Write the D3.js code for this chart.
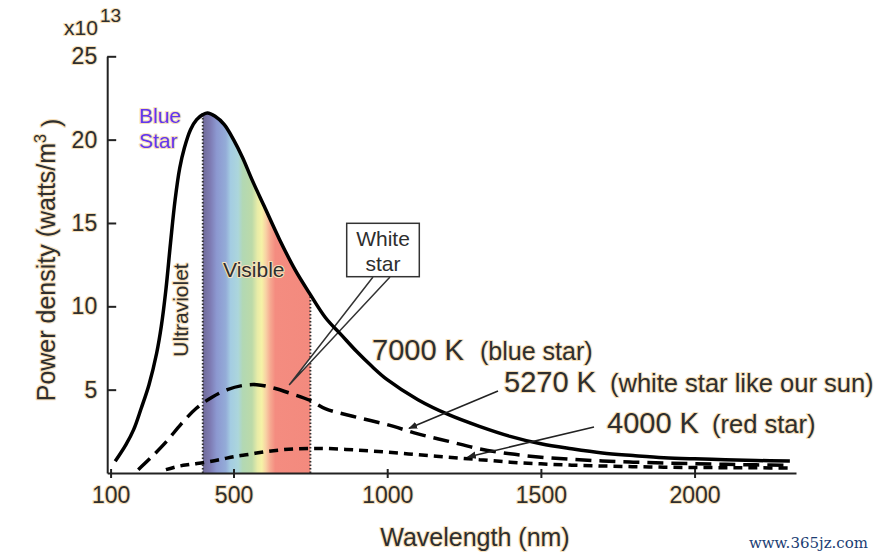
<!DOCTYPE html>
<html>
<head>
<meta charset="utf-8">
<script src="https://cdn.jsdelivr.net/npm/d3@7"></script>
<style>
  body { margin: 0; background: #fff; }
  text { font-family: "Liberation Sans", Arial, sans-serif; fill: #2e2e2e; }
  .halo { paint-order: stroke; stroke: #f6e0ba; stroke-width: 2.2px; stroke-linejoin: round; }
</style>
</head>
<body>
<div id="chart"></div>
<script>
// Values (units of 10^13 W/m^3)
var blueNm  = [115, 150, 175, 200, 225, 250, 265, 280, 295, 310, 325, 340, 360, 380, 400, 415, 440, 470, 500, 530, 560, 600, 650, 700, 750, 800, 850, 900, 950, 1000, 1100, 1200, 1300, 1400, 1500, 1600, 1700, 1800, 1900, 2000, 2100, 2200, 2310];
var blueVal = [0.7, 1.7, 2.6, 3.9, 5.3, 7.2, 8.8, 11.0, 13.8, 16.4, 18.3, 19.5, 20.6, 21.2, 21.5, 21.6, 21.4, 20.9, 20.0, 18.9, 17.6, 16.0, 14.0, 12.2, 10.7, 9.3, 8.3, 7.3, 6.4, 5.6, 4.4, 3.5, 2.8, 2.2, 1.75, 1.45, 1.2, 1.05, 0.92, 0.85, 0.8, 0.75, 0.72];

var whiteNm  = [190, 230, 280, 330, 380, 430, 480, 530, 575, 630, 690, 750, 800, 900, 1000, 1100, 1200, 1300, 1400, 1500, 1600, 1700, 1800, 1900, 2000, 2100, 2200, 2310];
var whiteVal = [0.2, 0.9, 1.85, 2.95, 3.9, 4.55, 5.0, 5.25, 5.3, 5.1, 4.75, 4.35, 3.85, 3.35, 2.9, 2.35, 1.9, 1.45, 1.15, 0.95, 0.82, 0.72, 0.65, 0.6, 0.56, 0.52, 0.49, 0.46];

var redNm  = [280, 320, 360, 410, 460, 500, 550, 600, 650, 700, 750, 800, 900, 1000, 1100, 1200, 1300, 1400, 1500, 1600, 1700, 1800, 1900, 2000, 2100, 2200, 2310];
var redVal = [0.2, 0.4, 0.52, 0.65, 0.82, 0.98, 1.12, 1.27, 1.38, 1.45, 1.47, 1.47, 1.38, 1.25, 1.1, 0.95, 0.8, 0.65, 0.55, 0.47, 0.42, 0.38, 0.35, 0.33, 0.32, 0.31, 0.3];

var xTicks = [100, 500, 1000, 1500, 2000];
var yTicks = [5, 10, 15, 20, 25];

// visible band colours
var bandNm     = [400, 425, 445, 475, 490, 515, 530, 560, 578, 592, 606, 620, 636, 750];
var bandColors = ["#706a98", "#7e7cb4", "#8c98d0", "#94acd8", "#a4cce2", "#acd6dc", "#b2d8b4", "#bcdaa8", "#e8eca8", "#f6f2a6", "#f8d0a4", "#f6a890", "#f48c80", "#f38a7e"];

var svgWidth = 877;
var svgHeight = 557;

var svg = d3.select("#chart")
  .append("svg")
  .attr("width", svgWidth)
  .attr("height", svgHeight);

var x = d3.scaleLinear().domain([89, 2330]).range([107.2, 796]);
var y = d3.scaleLinear().domain([0, 25]).range([473, 56.3]);

var zip = (a, b) => a.map((d, i) => [d, b[i]]);
var blueData = zip(blueNm, blueVal);
var whiteData = zip(whiteNm, whiteVal);
var redData = zip(redNm, redVal);

var line = d3.line()
  .x(d => x(d[0]))
  .y(d => y(d[1]))
  .curve(d3.curveCatmullRom);

var area = d3.area()
  .x(d => x(d[0]))
  .y0(y(0))
  .y1(d => y(d[1]))
  .curve(d3.curveCatmullRom);

var defs = svg.append("defs");

var grad = defs.append("linearGradient")
  .attr("id", "spec")
  .attr("gradientUnits", "userSpaceOnUse")
  .attr("x1", x(400)).attr("x2", x(750))
  .attr("y1", 0).attr("y2", 0);
grad.selectAll("stop")
  .data(bandNm)
  .enter()
  .append("stop")
  .attr("offset", d => (d - 400) / 350)
  .attr("stop-color", (d, i) => bandColors[i]);

defs.append("clipPath")
  .attr("id", "under")
  .append("path")
  .attr("d", area(blueData));

defs.append("marker")
  .attr("id", "arrow")
  .attr("viewBox", "0 0 10 10")
  .attr("refX", 9).attr("refY", 5)
  .attr("markerWidth", 9).attr("markerHeight", 9)
  .attr("markerUnits", "userSpaceOnUse")
  .attr("orient", "auto")
  .append("path")
  .attr("d", "M0,1 L10,5 L0,9 Z")
  .attr("fill", "#222");

// visible band under the 7000 K curve
svg.append("rect")
  .attr("x", x(400))
  .attr("width", x(750) - x(400))
  .attr("y", y(25))
  .attr("height", y(0) - y(25))
  .attr("fill", "url(#spec)")
  .attr("clip-path", "url(#under)");

svg.selectAll(".edge")
  .data([400, 750])
  .enter()
  .append("line")
  .attr("class", "edge")
  .attr("x1", d => x(d)).attr("x2", d => x(d))
  .attr("y1", y(0)).attr("y2", y(25))
  .attr("stroke", "#333")
  .attr("stroke-width", 2)
  .attr("stroke-dasharray", "1.5,2")
  .attr("clip-path", "url(#under)");

// axes
var xAxisG = svg.append("g")
  .attr("transform", `translate(0, ${y(0)})`)
  .call(d3.axisBottom(x).tickValues(xTicks).tickFormat(d3.format("d"))
    .tickSizeInner(5).tickSizeOuter(0).tickPadding(9));
xAxisG.selectAll(".tick line").attr("y1", -4);

var yAxisG = svg.append("g")
  .attr("transform", `translate(${x(89)}, 0)`)
  .call(d3.axisLeft(y).tickValues(yTicks).tickSizeInner(-9).tickSizeOuter(0).tickPadding(10));

svg.selectAll(".domain, .tick line")
  .attr("stroke", "#222")
  .attr("stroke-width", 2);
svg.selectAll(".tick text")
  .attr("class", "halo")
  .attr("font-size", "23px")
  .attr("font-family", "Liberation Sans, Arial, sans-serif")
  .attr("fill", "#2e2e2e");

// callout wedge and box
svg.append("path")
  .attr("d", `M${373},${277} L${x(681)},${y(5.28)} L${390},${277}`)
  .attr("fill", "#fff")
  .attr("stroke", "#333")
  .attr("stroke-width", 1.5);

// curves
svg.append("path")
  .attr("d", line(blueData))
  .attr("fill", "none")
  .attr("stroke", "#000")
  .attr("stroke-width", 3.5);

svg.append("path")
  .attr("d", line(whiteData))
  .attr("fill", "none")
  .attr("stroke", "#000")
  .attr("stroke-width", 3.5)
  .attr("stroke-dasharray", "16,8");

svg.append("path")
  .attr("d", line(redData))
  .attr("fill", "none")
  .attr("stroke", "#000")
  .attr("stroke-width", 3.5)
  .attr("stroke-dasharray", "9,6");

svg.append("rect")
  .attr("x", 346.7).attr("y", 223.3)
  .attr("width", 72.6).attr("height", 53.4)
  .attr("fill", "#fff")
  .attr("stroke", "#333")
  .attr("stroke-width", 1.5);
svg.append("text").attr("x", 383).attr("y", 246).attr("text-anchor", "middle").attr("font-size", "21px").text("White");
svg.append("text").attr("x", 383).attr("y", 271).attr("text-anchor", "middle").attr("font-size", "21px").text("star");

// arrows to curves
svg.append("line")
  .attr("x1", 498).attr("y1", 391)
  .attr("x2", x(1071)).attr("y2", y(2.68))
  .attr("stroke", "#222").attr("stroke-width", 1.6)
  .attr("marker-end", "url(#arrow)");
svg.append("line")
  .attr("x1", 594).attr("y1", 427)
  .attr("x2", x(1262)).attr("y2", y(0.96))
  .attr("stroke", "#222").attr("stroke-width", 1.6)
  .attr("marker-end", "url(#arrow)");

// labels
function label(xp, yp, size, str, cls) {
  return svg.append("text")
    .attr("x", xp).attr("y", yp)
    .attr("font-size", size + "px")
    .attr("class", cls || "halo")
    .text(str);
}

label(139, 123, 21, "Blue", "").style("fill", "#6236ee");
label(139, 148, 21, "Star", "").style("fill", "#6236ee");
label(223, 277, 21, "Visible");

svg.append("text")
  .attr("class", "halo")
  .attr("transform", "translate(188, 310) rotate(-90)")
  .attr("text-anchor", "middle")
  .attr("font-size", "21px")
  .text("Ultraviolet");

label(372, 360, 29, "7000 K");
label(480, 360, 25, "(blue star)");
label(504, 392, 29, "5270 K");
label(610, 392, 25.5, "(white star like our sun)");
label(607, 433, 29, "4000 K");
label(712, 433, 25.5, "(red star)");

// axis titles
label(64, 35, 21, "x10");
label(100, 22, 19, "13");

svg.append("text")
  .attr("class", "halo")
  .attr("x", 475).attr("y", 546)
  .attr("text-anchor", "middle")
  .attr("font-size", "25px")
  .text("Wavelength (nm)");

var yt = svg.append("text")
  .attr("class", "halo")
  .attr("transform", "translate(55, 260) rotate(-90)")
  .attr("text-anchor", "middle")
  .attr("font-size", "25px");
yt.append("tspan").text("Power density (watts/m");
yt.append("tspan").attr("dy", "-0.55em").attr("font-size", "16px").text("3");
yt.append("tspan").attr("dy", "0.55em").text(" )");

// watermark
svg.append("text")
  .attr("x", 868).attr("y", 548)
  .attr("text-anchor", "end")
  .attr("font-size", "15px")
  .style("font-family", "DejaVu Serif, serif")
  .style("fill", "#1b3d73")
  .text("www.365jz.com");
</script>
</body>
</html>
